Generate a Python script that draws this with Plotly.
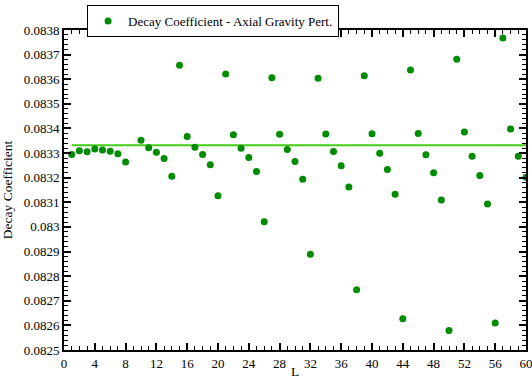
import plotly.graph_objects as go

L = list(range(1, 61))
decay = [0.083294, 0.083309, 0.083305, 0.083317, 0.083313, 0.083307, 0.083297, 0.083264,
         0.083788, 0.083352, 0.083322, 0.083303, 0.083278, 0.083206, 0.083657, 0.083367,
         0.083324, 0.083294, 0.083253, 0.083127, 0.083621, 0.083374, 0.083320, 0.083282,
         0.083225, 0.083021, 0.083606, 0.083376, 0.083315, 0.083266, 0.083194, 0.082889,
         0.083604, 0.083378, 0.083306, 0.083249, 0.083162, 0.082745, 0.083614, 0.083379,
         0.083299, 0.083233, 0.083133, 0.082627, 0.083637, 0.083380, 0.083293, 0.083220,
         0.083109, 0.082579, 0.083681, 0.083386, 0.083287, 0.083209, 0.083093, 0.082610,
         0.083768, 0.083398, 0.083287, 0.083202]
mean_val = 0.083332
y_ticks = [0.0825, 0.0826, 0.0827, 0.0828, 0.0829, 0.0830, 0.0831, 0.0832, 0.0833,
           0.0834, 0.0835, 0.0836, 0.0837, 0.0838]
y_labels = ["0.0825", "0.0826", "0.0827", "0.0828", "0.0829", "0.083", "0.0831", "0.0832",
            "0.0833", "0.0834", "0.0835", "0.0836", "0.0837", "0.0838"]

font = "Liberation Serif, Times New Roman, serif"
fig = go.Figure()
fig.add_trace(go.Scatter(x=[L[0], 60], y=[mean_val, mean_val], mode="lines",
                         line=dict(color="#44cc1a", width=2), showlegend=False,
                         hoverinfo="skip"))
fig.add_trace(go.Scatter(x=L, y=decay, mode="markers",
                         marker=dict(color="#008c00", size=7),
                         name="Decay Coefficient - Axial Gravity Pert."))

axis_common = dict(showline=True, linecolor="black", linewidth=2, mirror="allticks",
                   ticks="inside", ticklen=7, tickwidth=1.5, tickcolor="black",
                   showgrid=False, zeroline=False, automargin=False,
                   ticklabeloverflow="allow",
                   tickfont=dict(family=font, size=13, color="black"))
fig.update_xaxes(range=[0, 60], tickvals=list(range(0, 61, 4)),
                 minor=dict(dtick=1, tick0=0, ticklen=4, ticks="inside", tickcolor="black", tickwidth=1),
                 title=dict(text="L", font=dict(family=font, size=13.5, color="black"), standoff=3),
                 **axis_common)
fig.update_yaxes(range=[0.0825, 0.0838], tickvals=y_ticks, ticktext=y_labels,
                 minor=dict(dtick=0.00002, tick0=0.0825, ticklen=4, ticks="inside", tickcolor="black", tickwidth=1),
                 title=dict(text="Decay Coefficient", font=dict(family=font, size=13.5, color="black"), standoff=8),
                 **axis_common)
fig.update_layout(width=532, height=379, margin=dict(l=64, r=6, t=29, b=29),
                  plot_bgcolor="white", paper_bgcolor="white",
                  font=dict(family=font),
                  legend=dict(x=0.05, y=1.075, xanchor="left", yanchor="top",
                              bordercolor="black", borderwidth=1, bgcolor="white",
                              font=dict(family=font, size=13, color="black"),
                              itemwidth=30))
fig.write_html("out.html")
